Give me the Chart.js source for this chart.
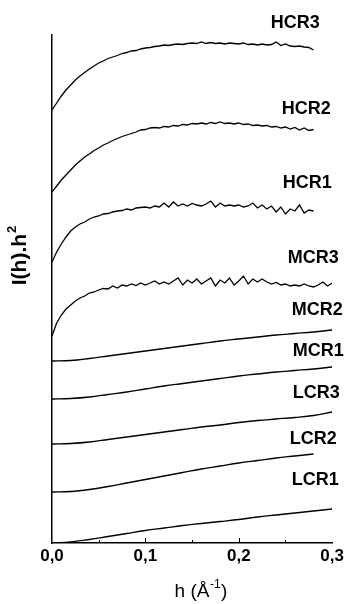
<!DOCTYPE html>
<html lang="en">
<head>
<meta charset="UTF-8">
<title>I(h).h² vs h</title>
<script src="https://cdn.jsdelivr.net/npm/chart.js"></script>
<style>
    body { margin: 0; background: #fff; }
    #wrap { width: 347px; height: 604px; position: relative; }
</style>
</head>
<body>
<div id="wrap"><canvas id="curveChart"></canvas></div>
<script>
    // h values (Å^-1): fine grid for the noisy curves, coarse grid for the smooth ones
    const hFine = [0, 0.005, 0.01, 0.015, 0.02, 0.025, 0.03, 0.035, 0.04, 0.045,
        0.05, 0.055, 0.06, 0.065, 0.07, 0.075, 0.08, 0.085, 0.09, 0.095,
        0.1, 0.105, 0.11, 0.115, 0.12, 0.125, 0.13, 0.135, 0.14, 0.145,
        0.15, 0.155, 0.16, 0.165, 0.17, 0.175, 0.18, 0.185, 0.19, 0.195,
        0.2, 0.205, 0.21, 0.215, 0.22, 0.225, 0.23, 0.235, 0.24, 0.245,
        0.25, 0.255, 0.26, 0.265, 0.27, 0.275, 0.28, 0.285, 0.29, 0.295, 0.3];
    const hCoarse = [0, 0.02, 0.04, 0.06, 0.08, 0.1, 0.12, 0.14, 0.16, 0.18, 0.2, 0.22, 0.24, 0.26, 0.28, 0.3];

    // I(h).h^2, stacked with offsets (arbitrary units)
    const HCR3 = [433, 440, 447, 453, 458, 463, 467, 470.5, 474, 477, 480, 482, 484.5, 486, 487.5, 489.5, 490.5, 492, 492.5, 494,
        495, 495.5, 496.5, 497, 498, 497.5, 498.5, 499, 498.5, 499.5, 500, 499.5, 501, 499.5, 500.5, 499.5, 500, 499, 500, 499.5,
        499, 500, 498.5, 499, 498, 499, 498, 498.5, 501, 497.5, 499, 497, 496.5, 497, 496, 495.5, 493];
    const HCR2 = [351, 357, 363, 368, 373, 378, 382, 386, 389, 392.5, 395, 398, 400, 402.5, 404.5, 406.5, 408, 409.5, 411, 413,
        413.5, 415, 415.5, 415, 416.5, 416, 417.5, 417, 418.5, 418, 419.5, 419, 420, 419, 420.5, 419.5, 421, 419.5, 420, 419,
        420, 418.5, 419, 417.5, 418, 417, 417.5, 416, 416.5, 415, 416, 414, 415.5, 413, 415, 412.5, 413.5];
    const HCR1 = [281, 291, 299, 306, 312, 316, 319, 321, 324, 326, 327, 329, 329.5, 331, 332, 332.5, 334, 333, 335, 335.5,
        336, 335, 337, 336, 340, 336, 341, 337, 339, 337, 339.5, 338, 337, 339, 342, 336, 340, 337, 338, 337,
        338, 336, 337, 340, 335, 338, 334, 337, 331, 336, 329, 334, 332, 338, 330, 333, 332];
    const MCR3 = [207, 220, 228, 234, 238, 242, 245, 247, 250, 251, 253, 254.5, 254, 257, 255, 258, 257, 259, 257.5, 260,
        258, 260, 262, 259, 261, 259, 262, 265, 258, 263, 260, 264, 259, 262, 265, 257, 263, 260, 265, 258,
        262, 267, 259, 264, 261, 264, 261, 259, 260.5, 258, 259, 257, 258, 257, 259, 257, 256, 258, 261, 257, 260];
    const MCR2 = [182, 182.5, 184.5, 187, 189.5, 192, 194.5, 197, 199.5, 202, 204, 206, 208, 209.5, 211, 213];
    const MCR1 = [144, 144.5, 146, 148.5, 151, 154, 157, 159.5, 162, 164.5, 167, 169, 171, 172.5, 174, 176];
    const LCR3 = [99, 99.5, 101, 103.5, 106, 108.5, 111, 113.5, 116, 118, 120.5, 122.5, 124, 125.5, 127.5, 131];
    const LCR2 = [51, 51.5, 53.5, 56.5, 60, 63.5, 67, 70.5, 74, 77, 80, 82.5, 85, 87, 89];
    const LCR1 = [0, 1, 3.5, 6.5, 9.5, 12.5, 15, 17.5, 19.5, 21.5, 23.5, 26, 28, 30, 32, 34];

    const xTicks = [0, 0.1, 0.2, 0.3];

    const FONT = "'Liberation Sans', Arial, sans-serif";

    function pairs(hs, ys) {
        return ys.map((y, i) => ({ x: hs[i], y: y }));
    }

    function line(name, hs, ys, smooth) {
        return {
            label: name,
            data: pairs(hs, ys),
            borderColor: '#000',
            borderWidth: 1.3,
            pointRadius: 0,
            tension: smooth ? 0.4 : 0,
            fill: false
        };
    }

    // curve names drawn at the right end of each curve (data coords)
    const tags = [
        ['HCR3', 0.2605, 520], ['HCR2', 0.2722, 434], ['HCR1', 0.2733, 360],
        ['MCR3', 0.2797, 285], ['MCR2', 0.2840, 233], ['MCR1', 0.2851, 192],
        ['LCR3', 0.2829, 150], ['LCR2', 0.2797, 104], ['LCR1', 0.2819, 63]
    ];

    const decor = {
        id: 'decor',
        afterDraw(chart) {
            const ctx = chart.ctx;
            const xs = chart.scales.x, ys = chart.scales.y;
            ctx.save();
            ctx.fillStyle = '#000';
            ctx.strokeStyle = '#000';

            // curve labels
            ctx.font = 'bold 18px ' + FONT;
            ctx.textAlign = 'center';
            ctx.textBaseline = 'middle';
            tags.forEach(t => {
                ctx.fillText(t[0], xs.getPixelForValue(t[1]), ys.getPixelForValue(t[2]));
            });

            // small inward ticks on the h axis
            ctx.lineWidth = 1;
            const yb = ys.getPixelForValue(0);
            [0.05, 0.1, 0.15, 0.2, 0.25].forEach(v => {
                const px = Math.round(xs.getPixelForValue(v)) + 0.5;
                const len = (Math.round(v * 100) % 10 === 0) ? 5 : 3;
                ctx.beginPath();
                ctx.moveTo(px, yb);
                ctx.lineTo(px, yb - len);
                ctx.stroke();
            });

            // y title, rotated, with superscript
            ctx.translate(20, 256);
            ctx.rotate(-Math.PI / 2);
            ctx.textAlign = 'left';
            ctx.textBaseline = 'middle';
            ctx.font = 'bold 21px ' + FONT;
            const main = 'I(h).h';
            const w1 = ctx.measureText(main).width;
            ctx.font = 'bold 13px ' + FONT;
            const w2 = ctx.measureText('2').width;
            const start = -(w1 + w2) / 2;
            ctx.font = 'bold 21px ' + FONT;
            ctx.fillText(main, start, 0);
            ctx.font = 'bold 13px ' + FONT;
            ctx.fillText('2', start + w1 + 1, -8);
            ctx.restore();

            // x title with superscript
            ctx.save();
            ctx.fillStyle = '#000';
            ctx.textBaseline = 'alphabetic';
            ctx.textAlign = 'left';
            ctx.font = '19px ' + FONT;
            const a = 'h (Å', b = ')';
            const wa = ctx.measureText(a).width, wb = ctx.measureText(b).width;
            ctx.font = '12px ' + FONT;
            const ws = ctx.measureText('-1').width;
            let x0 = 201 - (wa + ws + wb + 1) / 2;
            ctx.font = '19px ' + FONT;
            ctx.fillText(a, x0, 597);
            ctx.font = '12px ' + FONT;
            ctx.fillText('-1', x0 + wa + 0.5, 588);
            ctx.font = '19px ' + FONT;
            ctx.fillText(b, x0 + wa + ws + 1, 597);
            ctx.restore();
        }
    };

    new Chart(document.getElementById('curveChart'), {
        type: 'line',
        data: {
            datasets: [
                line('HCR3', hFine, HCR3, false),
                line('HCR2', hFine, HCR2, false),
                line('HCR1', hFine, HCR1, false),
                line('MCR3', hFine, MCR3, false),
                line('MCR2', hCoarse, MCR2, true),
                line('MCR1', hCoarse, MCR1, true),
                line('LCR3', hCoarse, LCR3, true),
                line('LCR2', hCoarse, LCR2, true),
                line('LCR1', hCoarse, LCR1, true)
            ]
        },
        options: {
            responsive: true,
            maintainAspectRatio: false,
            animation: false,
            layout: { padding: { left: 52, right: 14, top: 35, bottom: 0 } },
            plugins: { legend: { display: false }, tooltip: { enabled: false } },
            scales: {
                x: {
                    type: 'linear',
                    min: 0,
                    max: 0.3,
                    afterBuildTicks: s => { s.ticks = xTicks.map(v => ({ value: v })); },
                    afterFit: s => { s.height = 61; },
                    ticks: {
                        color: '#000',
                        padding: 3,
                        font: { family: FONT, size: 17, weight: 'bold' },
                        callback: v => v.toFixed(1).replace('.', ',')
                    },
                    grid: { display: false, drawTicks: false },
                    border: { color: '#000', width: 1.5 }
                },
                y: {
                    min: 0,
                    max: 508,
                    afterFit: s => { s.width = 0; },
                    ticks: { display: false },
                    grid: { display: false, drawTicks: false },
                    border: { color: '#000', width: 1.5 }
                }
            }
        },
        plugins: [decor]
    });
</script>
</body>
</html>
